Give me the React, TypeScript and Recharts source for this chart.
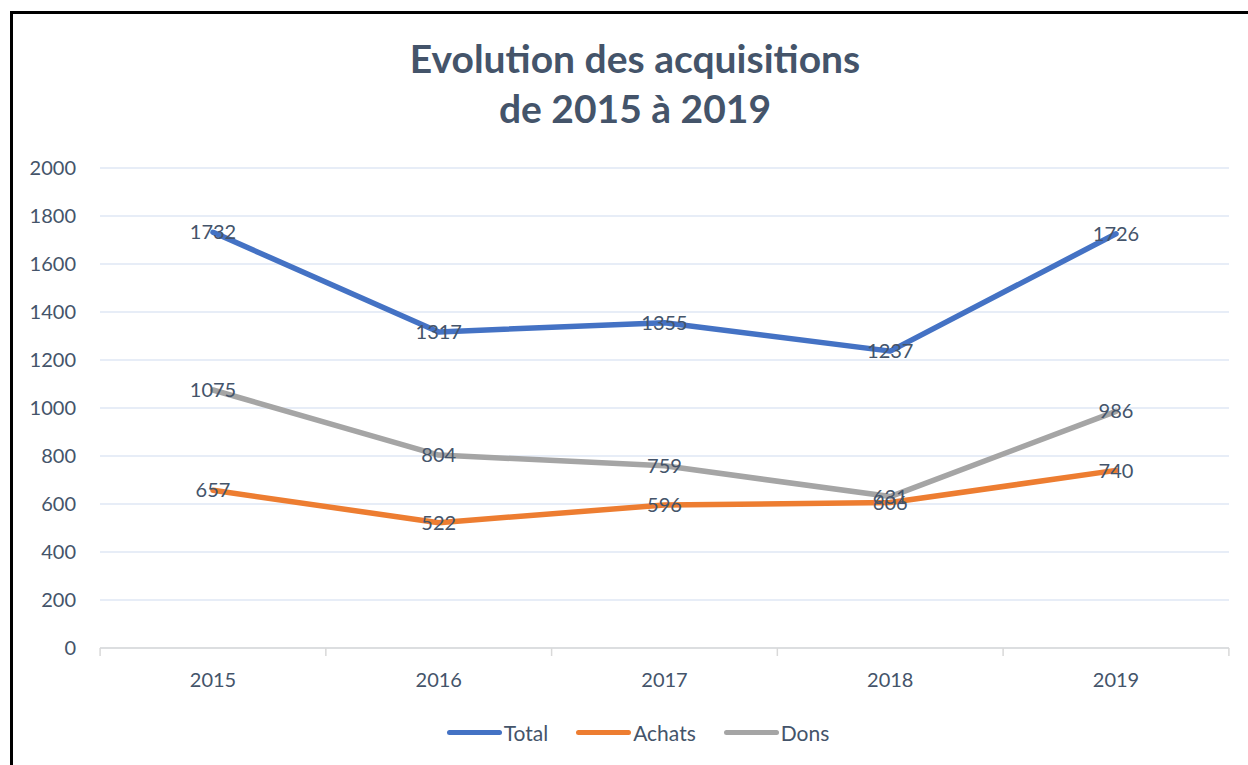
import React from "react";
import { LineChart, Line, XAxis, YAxis, CartesianGrid, LabelList } from "recharts";

const years = ["2015", "2016", "2017", "2018", "2019"];
const total = [1732, 1317, 1355, 1237, 1726];
const achats = [657, 522, 596, 606, 740];
const dons = [1075, 804, 759, 631, 986];
const yTicks = [0, 200, 400, 600, 800, 1000, 1200, 1400, 1600, 1800, 2000];

const series = [
  { key: "total", name: "Total", color: "#4472C4" },
  { key: "achats", name: "Achats", color: "#ED7D31" },
  { key: "dons", name: "Dons", color: "#A5A5A5" },
];

const data = years.map((y, i) => ({ year: y, total: total[i], achats: achats[i], dons: dons[i] }));

const FONT = "Lato, 'Open Sans', sans-serif";
const TEXT = "#44546A";
const HALF_BAND = 112.9;

const XTick = (props: any) => {
  const { x, y, payload, index, visibleTicksCount } = props;
  const axisY = y - 8;
  return (
    <g>
      <line x1={x - HALF_BAND} x2={x - HALF_BAND} y1={axisY} y2={axisY + 8} stroke="#D9D9D9" strokeWidth={1.5} />
      {index === visibleTicksCount - 1 && (
        <line x1={x + HALF_BAND} x2={x + HALF_BAND} y1={axisY} y2={axisY + 8} stroke="#D9D9D9" strokeWidth={1.5} />
      )}
      <text x={x} y={axisY + 31} textAnchor="middle" dominantBaseline="central" fill={TEXT} fontSize={20} fontFamily={FONT}>
        {payload.value}
      </text>
    </g>
  );
};

export default function App() {
  return (
    <div style={{ position: "absolute", left: 0, top: 0, width: 1248, height: 765, background: "#fff", overflow: "hidden" }}>
      <div style={{ position: "absolute", left: 10, top: 11, width: 1300, height: 800, borderLeft: "3px solid #000", borderTop: "3px solid #000" }} />
      <div
        style={{
          position: "absolute",
          left: 0,
          width: 1270,
          top: 33,
          textAlign: "center",
          fontFamily: FONT,
          fontWeight: 700,
          fontSize: 39,
          lineHeight: "50px",
          color: TEXT,
        }}
      >
        Evolution des acquisitions
        <br />
        de 2015 à 2019
      </div>
      <div style={{ position: "absolute", left: 0, top: 0 }}>
        <LineChart width={1248} height={765} data={data} margin={{ top: 168, right: 19, bottom: 57, left: 20 }}>
          <CartesianGrid vertical={false} stroke="#D0DCF0" strokeWidth={1.2} />
          <XAxis
            dataKey="year"
            padding={{ left: 113, right: 113 }}
            height={60}
            axisLine={{ stroke: "#D9D9D9", strokeWidth: 1.5 }}
            tickLine={false}
            tickSize={8}
            tickMargin={0}
            tick={<XTick />}
            interval={0}
          />
          <YAxis
            width={80}
            domain={[0, 2000]}
            ticks={yTicks}
            axisLine={false}
            tickLine={false}
            tickSize={0}
            tickMargin={24}
            tick={{ fill: TEXT, fontSize: 20, fontFamily: FONT }}
          />
          {series.map((s) => (
            <Line
              key={s.key}
              dataKey={s.key}
              name={s.name}
              stroke={s.color}
              strokeWidth={5.5}
              strokeLinecap="round"
              strokeLinejoin="round"
              dot={false}
              activeDot={false}
              isAnimationActive={false}
            >
              <LabelList dataKey={s.key} position="center" fill={TEXT} fontSize={20} fontFamily={FONT} />
            </Line>
          ))}
        </LineChart>
      </div>
      <div
        style={{
          position: "absolute",
          top: 718,
          left: 0,
          width: 1276,
          display: "flex",
          justifyContent: "center",
          gap: 28,
          fontFamily: FONT,
          fontSize: 21,
          color: TEXT,
        }}
      >
        {series.map((s) => (
          <div key={s.key} style={{ display: "flex", alignItems: "center", height: 28 }}>
            <div style={{ width: 55, height: 5, borderRadius: 3, background: s.color, marginRight: 2 }} />
            <span>{s.name}</span>
          </div>
        ))}
      </div>
    </div>
  );
}
